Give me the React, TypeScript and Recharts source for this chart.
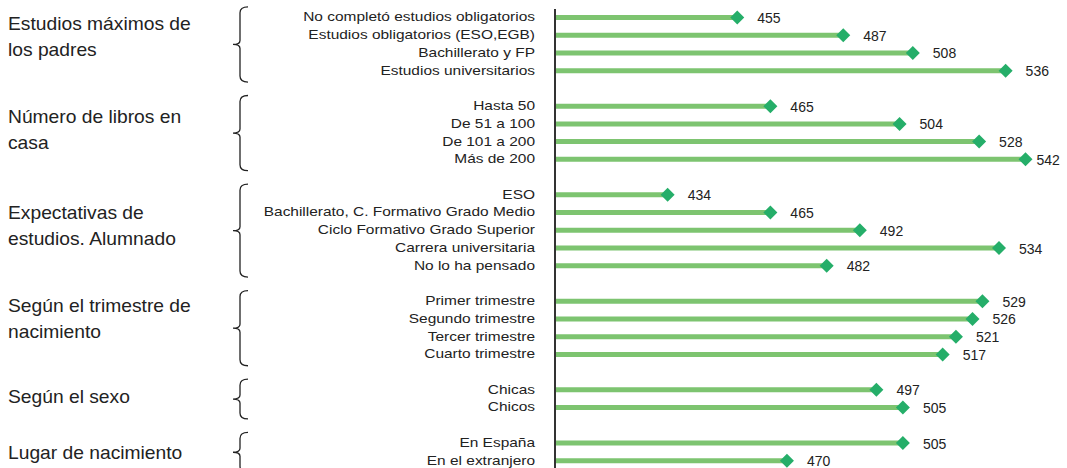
import React from 'react';
import { BarChart, Bar, XAxis, YAxis } from 'recharts';

// Group titles (left column)
const groupTitles = [
  ['Estudios máximos de', 'los padres'],
  ['Número de libros en', 'casa'],
  ['Expectativas de', 'estudios. Alumnado'],
  ['Según el trimestre de', 'nacimiento'],
  ['Según el sexo'],
  ['Lugar de nacimiento'],
];

// Category labels per group
const parentsLabels = [
  'No completó estudios obligatorios',
  'Estudios obligatorios (ESO,EGB)',
  'Bachillerato y  FP',
  'Estudios universitarios ',
];
const booksLabels = ['Hasta 50', 'De 51 a 100', 'De 101 a 200', 'Más de 200'];
const expectLabels = [
  'ESO',
  'Bachillerato, C. Formativo Grado  Medio',
  'Ciclo Formativo Grado Superior',
  'Carrera universitaria',
  'No lo ha pensado',
];
const quarterLabels = ['Primer trimestre', 'Segundo trimestre', 'Tercer trimestre', 'Cuarto trimestre'];
const sexLabels = ['Chicas', 'Chicos'];
const birthLabels = ['En España', 'En el extranjero'];

// Scores per group
const parentsScores = [455, 487, 508, 536];
const booksScores = [465, 504, 528, 542];
const expectScores = [434, 465, 492, 534, 482];
const quarterScores = [529, 526, 521, 517];
const sexScores = [497, 505];
const birthScores = [505, 470];

const groupLabels = [parentsLabels, booksLabels, expectLabels, quarterLabels, sexLabels, birthLabels];
const groupScores = [parentsScores, booksScores, expectScores, quarterScores, sexScores, birthScores];

// vertical nudge of each group title relative to its brace centre
const titleShift = [-8, -3, -5, -9, -2, 1];

type Row = { name: string; value: number | null; group: number; first: boolean; size: number };

const rows: Row[] = [];
groupLabels.forEach((labels, g) => {
  if (g > 0) rows.push({ name: `__gap${g}`, value: null, group: g, first: false, size: 0 });
  labels.forEach((label, i) => {
    rows.push({ name: label, value: groupScores[g][i], group: g, first: i === 0, size: labels.length });
  });
});

const W = 1067;
const H = 470;
const TOP = 9;
const BAND = (H - TOP) / rows.length;
const FONT = '"Liberation Sans", Arial, sans-serif';
const BAR = '#7dc470';
const MARK = '#25ae69';
const INK = '#222';

const Brace = ({ top, bottom }: { top: number; bottom: number }) => {
  const mid = (top + bottom) / 2;
  const xl = 240; // vertical stroke
  const xt = 233; // tip
  const xr = 248; // curl end
  const r = 6;
  const d = `M${xr},${top} Q${xl},${top} ${xl},${top + r} L${xl},${mid - 4} Q${xl},${mid} ${xt},${mid} Q${xl},${mid} ${xl},${mid + 4} L${xl},${bottom - r} Q${xl},${bottom} ${xr},${bottom}`;
  return <path d={d} fill="none" stroke={INK} strokeWidth={1.3} />;
};

const CategoryTick = (props: any) => {
  const { x, y, index } = props;
  const row = rows[index];
  if (!row || row.value === null) return null;
  const els: React.ReactNode[] = [
    <text
      key="t"
      transform={`translate(${x},${y - 1}) scale(1.19,1)`}
      textAnchor="end"
      dominantBaseline="central"
      fontSize={13}
      fill={INK}
      fontFamily={FONT}
    >
      {row.name}
    </text>,
  ];
  if (row.first) {
    const top = y - 11;
    const bottom = y + (row.size - 1) * BAND + 11;
    const lines = groupTitles[row.group];
    const lh = 26;
    const cy = (top + bottom) / 2 + titleShift[row.group];
    const y0 = cy - ((lines.length - 1) * lh) / 2;
    els.push(<Brace key="b" top={top} bottom={bottom} />);
    lines.forEach((ln, i) => {
      els.push(
        <text
          key={`g${i}`}
          transform={`translate(8,${y0 + i * lh}) scale(1.1,1)`}
          dominantBaseline="central"
          fontSize={17.5}
          fill={INK}
          fontFamily={FONT}
        >
          {ln}
        </text>
      );
    });
  }
  return <g>{els}</g>;
};

const EndMarker = (props: any) => {
  const { x, y, width, height, value } = props;
  if (value === null || value === undefined) return null;
  const cx = x + width;
  const cy = y + height / 2;
  const s = 7;
  const tx = cx + 20 + 30 > W ? cx + 11 : cx + 20;
  return (
    <g>
      <polygon points={`${cx},${cy - s} ${cx + s},${cy} ${cx},${cy + s} ${cx - s},${cy}`} fill={MARK} />
      <text x={tx} y={cy + 0.5} dominantBaseline="central" fontSize={14} fill={INK} fontFamily={FONT}>
        {value}
      </text>
    </g>
  );
};

const App = () => {
  return (
    <div style={{ position: 'absolute', left: 0, top: 0, width: W, height: 468, overflow: 'hidden', background: '#fff' }}>
      <BarChart
        width={W}
        height={H}
        data={rows}
        layout="vertical"
        margin={{ top: TOP, right: 15, bottom: 0, left: 0 }}
      >
        <XAxis type="number" domain={[400, 550]} hide allowDataOverflow />
        <YAxis
          type="category"
          dataKey="name"
          width={555}
          interval={0}
          tickLine={false}
          tickSize={0}
          tickMargin={20}
          axisLine={{ stroke: '#333', strokeWidth: 2 }}
          tick={<CategoryTick />}
        />
        <Bar dataKey="value" fill={BAR} barSize={5} isAnimationActive={false} label={<EndMarker />} />
      </BarChart>
    </div>
  );
};

export default App;
